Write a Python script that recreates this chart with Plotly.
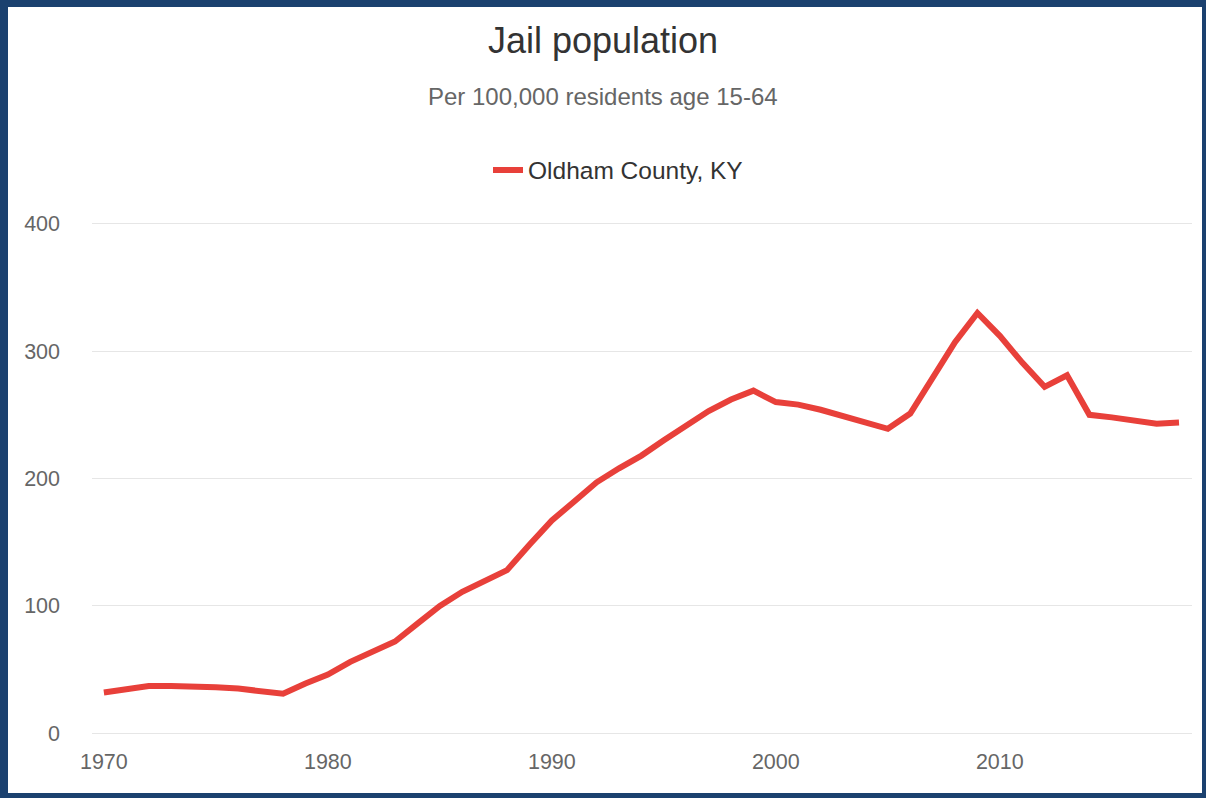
import plotly.graph_objects as go

years = list(range(1970, 2019))
jail_rate = [
    32, 35, 37, 37, 37, 36, 35, 33, 31, 39,
    46, 56, 64, 72, 86, 100, 111, 120, 128, 148,
    167, 182, 197, 208, 218, 230, 241, 253, 262, 269,
    260, 258, 254, 249, 245, 239, 251, 279, 307, 330,
    312, 291, 272, 281, 250, 248, 246, 243, 244,
]
series_name = "Oldham County, KY"
x_ticks = [1970, 1980, 1990, 2000, 2010]
y_ticks = [0, 100, 200, 300, 400]

FONT = "Liberation Sans, Arial, Helvetica, sans-serif"
RED = "#e8403a"
BORDER = "#1b416f"

fig = go.Figure()
fig.add_trace(go.Scatter(
    x=years, y=jail_rate, mode="lines", name=series_name,
    line=dict(color=RED, width=6),
))

W, H = 1206, 798
ml, mr, mt, mb = 92, 14, 220, 61
pw, ph = W - ml - mr, H - mt - mb

fig.update_layout(
    width=W, height=H,
    margin=dict(l=ml, r=mr, t=mt, b=mb),
    paper_bgcolor=BORDER,
    plot_bgcolor="white",
    font=dict(family=FONT, color="#666666"),
    title=dict(text="Jail population", x=0.5, xanchor="center", xref="container",
               y=1 - 40 / H, yanchor="middle", yref="container",
               font=dict(size=36, color="#333333", family=FONT)),
    showlegend=True,
    legend=dict(orientation="h", x=488 / W, xanchor="left", xref="container",
                y=1 - 170 / H, yanchor="middle", yref="container",
                font=dict(size=24.5, color="#333333", family=FONT),
                bgcolor="rgba(0,0,0,0)"),
    xaxis=dict(range=[1969.47, 2018.58], tickvals=x_ticks, showgrid=False,
               zeroline=False, showline=False, ticks="",
               tickfont=dict(size=21.5, color="#666666"), ticklabelstandoff=9),
    yaxis=dict(range=[-3, 403], tickvals=y_ticks, showgrid=True, gridcolor="#e6e6e6",
               gridwidth=1.2, zeroline=False, showline=False, ticks="",
               tickfont=dict(size=21.5, color="#666666"), ticklabelstandoff=31),
)

# white panel inside the dark-blue frame
left, top, right, bottom = 8, 7, 4, 5
fig.add_shape(type="rect", layer="below", xref="paper", yref="paper",
              x0=(left - ml) / pw, x1=(W - right - ml) / pw,
              y0=-(mb - bottom) / ph, y1=1 + (mt - top) / ph,
              fillcolor="white", line=dict(width=0))

fig.add_annotation(text="Per 100,000 residents age 15-64", xref="paper", yref="paper",
                   x=(W / 2 - ml) / pw, y=1 + (mt - 97) / ph, xanchor="center",
                   yanchor="middle", showarrow=False,
                   font=dict(size=24, color="#666666", family=FONT))

fig.write_html("out.html", config={"displayModeBar": False},
               post_script="document.body.style.margin='0';")
